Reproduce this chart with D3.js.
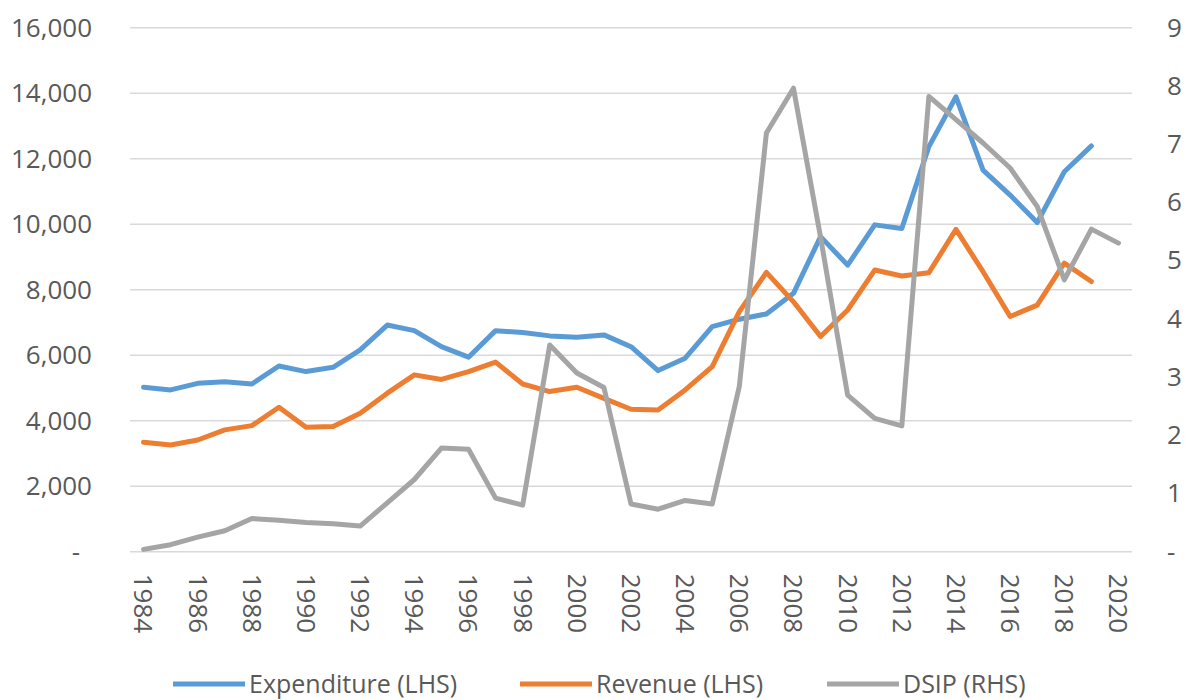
<!DOCTYPE html>
<html>
<head>
<meta charset="utf-8">
<script src="https://cdn.jsdelivr.net/npm/d3@7"></script>
<style>
  body { margin: 0; background: #fff; }
  svg text { font-family: "Open Sans", sans-serif; fill: #595959; }
</style>
</head>
<body>
<div id="lineChart"></div>
<script>
// categories
const years = [1984, 1985, 1986, 1987, 1988, 1989, 1990, 1991, 1992, 1993, 1994, 1995, 1996,
  1997, 1998, 1999, 2000, 2001, 2002, 2003, 2004, 2005, 2006, 2007, 2008, 2009, 2010,
  2011, 2012, 2013, 2014, 2015, 2016, 2017, 2018, 2019, 2020];

// LHS series
const expenditure = [5020, 4940, 5140, 5190, 5120, 5670, 5500, 5630, 6160, 6920, 6750, 6260, 5940,
  6750, 6690, 6590, 6550, 6620, 6260, 5530, 5910, 6870, 7100, 7260, 7890, 9620, 8750,
  9980, 9870, 12370, 13890, 11650, 10890, 10050, 11600, 12390, null];
const revenue = [3340, 3260, 3410, 3720, 3850, 4410, 3800, 3820, 4230, 4840, 5400, 5260, 5500,
  5790, 5120, 4890, 5020, 4680, 4350, 4330, 4940, 5650, 7330, 8530, 7630, 6570, 7380,
  8600, 8420, 8520, 9840, 8550, 7180, 7530, 8810, 8250, null];

// RHS series
const dsip = [0.04, 0.12, 0.25, 0.36, 0.57, 0.54, 0.50, 0.48, 0.44, 0.84, 1.24, 1.78, 1.76,
  0.92, 0.80, 3.55, 3.07, 2.82, 0.82, 0.73, 0.88, 0.82, 2.84, 7.19, 7.96, 5.40, 2.69,
  2.29, 2.16, 7.82, 7.42, 7.02, 6.59, 5.93, 4.67, 5.54, 5.30];

// tick labels
const leftTicks = [0, 2000, 4000, 6000, 8000, 10000, 12000, 14000, 16000];
const rightTicks = [0, 1, 2, 3, 4, 5, 6, 7, 8, 9];
const yearLabels = years.filter((d, i) => i % 2 === 0);

const seriesNames = ["Expenditure (LHS)", "Revenue (LHS)", "DSIP (RHS)"];
const seriesColors = ["#5b9bd5", "#ed7d31", "#a5a5a5"];

drawChart();

function drawChart() {
  const width = 1187, height = 700;
  const left = 130, right = 1132, top = 27.7, bottom = 551.7;

  const svg = d3.select("#lineChart")
    .append("svg")
    .attr("width", width)
    .attr("height", height);

  const x = d3.scaleBand()
    .domain(years)
    .range([left, right]);
  const cx = d => x(d) + x.bandwidth() / 2;

  const yL = d3.scaleLinear().domain([0, 16000]).range([bottom, top]);
  const yR = d3.scaleLinear().domain([0, 9]).range([bottom, top]);

  // gridlines
  svg.append("g")
    .selectAll("line")
    .data(leftTicks)
    .enter().append("line")
    .attr("x1", left)
    .attr("x2", right)
    .attr("y1", d => yL(d))
    .attr("y2", d => yL(d))
    .attr("stroke", "#d9d9d9")
    .attr("stroke-width", 1.5);

  // left axis
  const axL = svg.append("g")
    .attr("transform", `translate(${left}, 0)`)
    .call(d3.axisLeft(yL).tickValues(leftTicks).tickSize(0).tickPadding(38)
      .tickFormat(d => d === 0 ? "-" : d3.format(",")(d)));
  axL.select(".domain").remove();
  axL.selectAll("text")
    .style("font-size", "26px")
    .attr("dx", d => d === 0 ? -12 : 0);

  // right axis
  const axR = svg.append("g")
    .attr("transform", `translate(${right}, 0)`)
    .call(d3.axisRight(yR).tickValues(rightTicks).tickSize(0).tickPadding(35)
      .tickFormat(d => d === 0 ? "-" : d));
  axR.select(".domain").remove();
  axR.selectAll("text").style("font-size", "26px");

  // bottom axis labels
  const axB = svg.append("g")
    .attr("transform", `translate(0, ${bottom})`)
    .call(d3.axisBottom(x).tickValues(yearLabels).tickSize(0));
  axB.select(".domain").remove();
  axB.selectAll("text")
    .style("font-size", "26px")
    .attr("transform", "rotate(90)")
    .attr("text-anchor", "start")
    .attr("x", 22)
    .attr("y", 0)
    .attr("dy", "0.35em");

  const lineL = d3.line()
    .defined(d => d.v !== null)
    .x(d => cx(d.year))
    .y(d => yL(d.v));
  const lineR = d3.line()
    .defined(d => d.v !== null)
    .x(d => cx(d.year))
    .y(d => yR(d.v));

  const series = [
    { values: expenditure, gen: lineL },
    { values: revenue, gen: lineL },
    { values: dsip, gen: lineR }
  ];

  series.forEach((s, i) => {
    svg.append("path")
      .datum(years.map((year, j) => ({ year: year, v: s.values[j] })))
      .attr("d", s.gen)
      .attr("fill", "none")
      .attr("stroke", seriesColors[i])
      .attr("stroke-width", 5)
      .attr("stroke-linejoin", "round")
      .attr("stroke-linecap", "round");
  });

  // legend
  const legendX = [173, 520, 827];
  const legend = svg.append("g")
    .selectAll("g")
    .data(seriesNames)
    .enter().append("g")
    .attr("transform", (d, i) => `translate(${legendX[i]}, 684)`);

  legend.append("line")
    .attr("x1", 0)
    .attr("x2", 72)
    .attr("stroke", (d, i) => seriesColors[i])
    .attr("stroke-width", 5);

  legend.append("text")
    .attr("x", 76)
    .attr("dy", "0.35em")
    .style("font-size", "25px")
    .text(d => d);
}
</script>
</body>
</html>
